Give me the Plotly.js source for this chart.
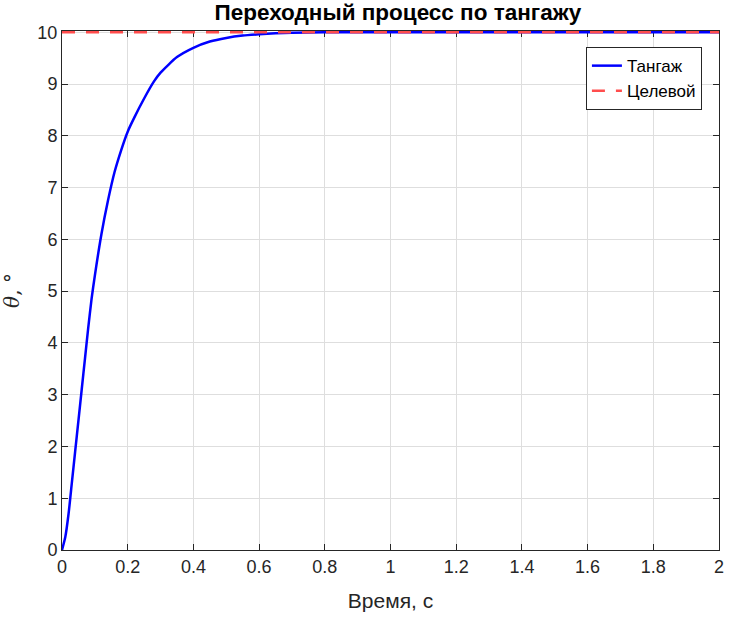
<!DOCTYPE html>
<html>
<head>
<meta charset="utf-8">
<script src="https://cdn.plot.ly/plotly-3.0.1.min.js"></script>
<style>
  body { margin: 0; background: #fff; }
  #chart { width: 730px; height: 620px; }
</style>
</head>
<body>
<div id="chart"></div>
<script>
// step response
var timeS = [0, 0.01, 0.02, 0.03, 0.04, 0.05, 0.06, 0.07, 0.08, 0.09, 0.10, 0.12, 0.14, 0.16, 0.18,
             0.20, 0.22, 0.25, 0.28, 0.30, 0.35, 0.40, 0.45, 0.50, 0.55, 0.60, 0.65, 0.70, 0.8, 1.0, 1.5, 2.0]
var pitch = [0, 0.25, 0.7, 1.3, 1.9, 2.5, 3.1, 3.7, 4.3, 4.85, 5.3, 6.1, 6.75, 7.3, 7.72,
             8.08, 8.35, 8.72, 9.05, 9.22, 9.52, 9.70, 9.82, 9.89, 9.935, 9.96, 9.98, 9.99, 10, 10, 10, 10]

var targetT = [0, 2]
var target = [10, 10]

var seriesNames = ['Тангаж', 'Целевой']

var font = 'Liberation Sans, Arial, sans-serif'

var pitchTrace = {
    x: timeS,
    y: pitch,
    name: seriesNames[0],
    type: 'scatter',
    mode: 'lines',
    line: {color: '#0000ff', width: 2.5, shape: 'spline', smoothing: 0.6},
}

var targetTrace = {
    x: targetT,
    y: target,
    name: seriesNames[1],
    type: 'scatter',
    mode: 'lines',
    line: {color: '#ff4d4d', width: 2.5, dash: '13px,11px'},
}

var axisStyle = {
    showline: true,
    mirror: 'ticks',
    linecolor: '#262626',
    linewidth: 1,
    ticks: 'inside',
    ticklen: 6,
    tickcolor: '#262626',
    showgrid: true,
    gridcolor: '#dedede',
    zeroline: false,
    layer: 'below traces',
    tickfont: {family: font, size: 18, color: '#262626'},
}

var layout = {
    width: 730,
    height: 620,
    margin: {l: 62, r: 11, t: 31, b: 70},
    paper_bgcolor: '#fff',
    plot_bgcolor: '#fff',
    title: {
        text: '<b>Переходный процесс по тангажу</b>',
        font: {family: font, size: 22.5, color: '#000'},
        x: 0.545, xanchor: 'center',
        y: 0.981, yanchor: 'middle',
    },
    xaxis: Object.assign({}, axisStyle, {
        range: [0, 2],
        dtick: 0.2,
        title: {text: 'Время, с', font: {family: font, size: 21, color: '#262626'}, standoff: 17},
    }),
    yaxis: Object.assign({}, axisStyle, {
        // a hair of headroom above 10 so the lines on the top edge are not clipped in half
        range: [0, 10.024],
        tick0: 0,
        dtick: 1,
        title: {text: '<i>θ</i>, °', font: {family: 'DejaVu Serif, serif', size: 20, color: '#262626'}, standoff: 12},
    }),
    showlegend: true,
    legend: {
        x: 0.974, xanchor: 'right',
        y: 0.969, yanchor: 'top',
        bgcolor: '#fff',
        bordercolor: '#262626',
        borderwidth: 1,
        font: {family: font, size: 17, color: '#000'},
        tracegroupgap: 0,
    },
}

Plotly.newPlot('chart', [pitchTrace, targetTrace], layout, {displayModeBar: false, staticPlot: true})
</script>
</body>
</html>
